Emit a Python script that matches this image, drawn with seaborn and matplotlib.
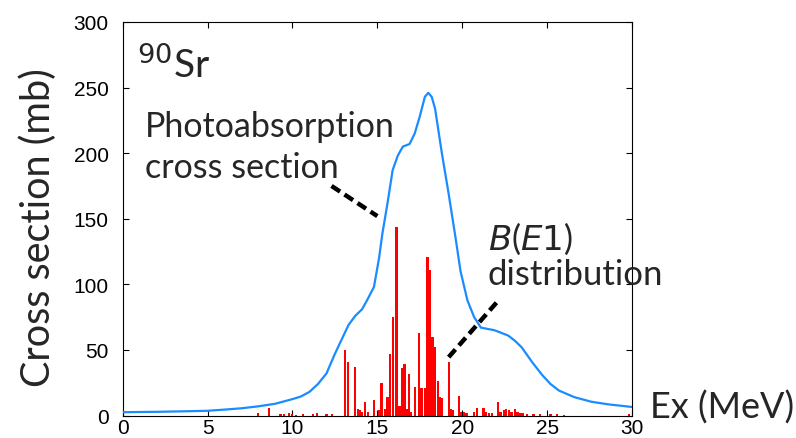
import matplotlib
matplotlib.use("Agg")
import matplotlib.pyplot as plt
import seaborn as sns

# photoabsorption cross section curve (MeV, mb)
ex_curve = [0, 2, 4, 5, 6, 7, 8, 9, 10, 10.5, 11, 11.5, 12, 12.5, 12.9, 13.3, 13.7,
            14.1, 14.4, 14.8, 15.1, 15.3, 15.6, 15.9, 16.2, 16.5, 16.9, 17.2, 17.5,
            17.8, 18.0, 18.2, 18.4, 18.8, 19.2, 19.6, 19.9, 20.3, 20.7, 21.1, 21.5,
            21.9, 22.3, 22.7, 23.1, 23.5, 24.1, 24.7, 25.2, 25.7, 26.6, 27.6, 28.6, 30]
sigma_curve = [2.5, 2.8, 3.3, 3.6, 4.5, 5.5, 7, 9, 12.5, 14.5, 18, 24, 32, 47, 58, 69, 76,
               81, 88, 98, 120, 139, 162, 187, 198, 205, 207, 215, 228,
               243, 246, 243, 234, 200, 169, 136, 110, 88, 75, 67, 66,
               65, 63, 61, 57, 52, 41, 31, 24, 19, 14, 10.5, 8.5, 6.5]

# B(E1) strength distribution (MeV, scaled to mb)
ex_b1 = [7.95, 8.6, 9.3, 9.5, 9.8, 9.95, 10.2, 10.6, 11.2, 11.45, 12.0, 12.35,
         13.1, 13.25, 13.7, 13.85, 14.0, 14.1, 14.25, 14.45, 14.8, 15.1, 15.25, 15.45,
         15.6, 15.75, 15.9, 16.13, 16.3, 16.45, 16.6, 16.72, 16.85, 17.0, 17.2, 17.45,
         17.6, 17.8, 17.95, 18.1, 18.25, 18.4, 18.55, 18.7, 18.8, 19.2, 19.35, 19.45,
         19.8, 19.95, 20.1, 20.25, 20.7, 20.85, 21.25, 21.4, 21.6, 21.75, 22.1, 22.25,
         22.45, 22.6, 22.75, 22.9, 23.1, 23.25, 23.4, 23.55, 23.8, 24.2, 24.6, 25.2,
         25.6, 26.0, 29.8]
b1_vals = [2, 6, 1, 1, 2, 1, 0.7, 1, 1, 2, 1, 1,
           50, 41, 37, 5, 4, 3, 10, 3, 12, 4, 25, 5,
           14, 47, 75, 144, 7, 36, 39, 5, 32, 3, 22, 63,
           21, 21, 121, 111, 60, 52, 26, 14, 13, 41, 5, 4,
           15, 3, 3, 2, 3, 6, 6, 3, 2, 2, 10, 3,
           4, 5, 4, 3, 5, 3, 2, 2, 1, 1, 1, 0.8,
           0.8, 0.5, 1]

x_ticks = [0, 5, 10, 15, 20, 25, 30]
y_ticks = [0, 50, 100, 150, 200, 250, 300]

sns.set_style("ticks", {"xtick.direction": "in", "ytick.direction": "in"})
plt.rcParams["font.family"] = ["Liberation Sans", "DejaVu Sans"]

fig = plt.figure(figsize=(7.96, 4.39), dpi=100)
ax = fig.add_axes([122.7 / 796, (439 - 416.5) / 439, (632 - 122.7) / 796, (416.5 - 23) / 439])

# red B(E1) bars
ax.bar(ex_b1, b1_vals, width=0.13, color="#ff0000", edgecolor="none", zorder=2)

# blue cross section curve
sns.lineplot(x=ex_curve, y=sigma_curve, color="#1a8cff", linewidth=1.6, ax=ax, zorder=3)

# dashed pointer lines
ax.plot([12.3, 15.0], [175, 152], color="black", lw=3.2, dashes=(2.3, 1.2),
        solid_capstyle="butt", zorder=4)
ax.plot([19.2, 22.15], [44.5, 88], color="black", lw=3.2, dashes=(2.3, 1.2),
        solid_capstyle="butt", zorder=4)

ax.set_xlim(0, 30)
ax.set_ylim(0, 300)
ax.set_xticks(x_ticks)
ax.set_yticks(y_ticks)
ax.tick_params(axis="both", which="both", direction="in", length=4, width=0.8,
               top=True, right=True, labelsize=15, colors="black")
ax.tick_params(axis="x", pad=2)
ax.tick_params(axis="y", pad=10)
for s in ax.spines.values():
    s.set_visible(True)
    s.set_color("black")
    s.set_linewidth(0.8)

label_font = ["Lato", "DejaVu Sans"]

# annotations
ax.text(0.85, 258, r"$^{90}$Sr", fontsize=28, family=label_font, va="baseline")
ax.text(1.3, 213, "Photoabsorption", fontsize=24.5, family=label_font, va="baseline")
ax.text(1.3, 181.5, "cross section", fontsize=24.5, family=label_font, va="baseline")
ax.text(21.5, 127, r"$\it{B}$($\it{E1}$)", fontsize=24.5, family=label_font, va="baseline")
ax.text(21.5, 100, "distribution", fontsize=25, family=label_font, va="baseline")

ax.set_xlabel("")
ax.set_ylabel("")
fig.text(650 / 796, (439 - 419) / 439, "Ex (MeV)", fontsize=26, family=label_font,
         va="baseline", ha="left")
fig.text(38 / 796, (439 - 228) / 439, "Cross section (mb)", fontsize=28.5,
         family=label_font, rotation=90, va="center", ha="center")

fig.savefig("out.png", dpi=100)
